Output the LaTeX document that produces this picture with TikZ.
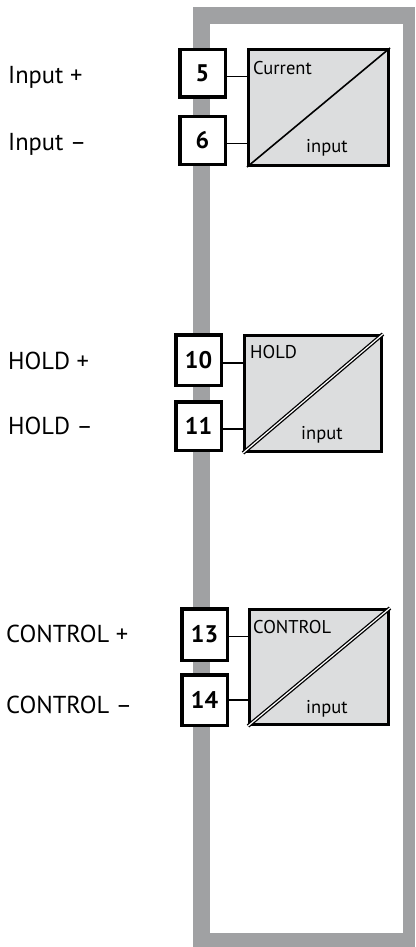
\documentclass[tikz,border=0pt]{standalone}
\usepackage{fontspec}
\setmainfont{PT Sans}
\definecolor{framegray}{HTML}{A0A1A3}
\definecolor{convgray}{HTML}{DCDDDE}
\tikzset{
  term/.style={draw, line width=3.5pt, fill=white, inner sep=0pt,
    font=\fontsize{24}{24}\selectfont\bfseries},
  conv/.style={draw, line width=3pt, fill=convgray, inner sep=0pt},
  wire/.style={line width=1.6pt},
  lbl/.style={anchor=base west, inner sep=0pt, font=\fontsize{24.5}{24.5}\selectfont},
  inlbl/.style={anchor=base west, inner sep=0pt, font=\fontsize{18.5}{18.5}\selectfont},
  diag/.style={line width=1.6pt},
  ddiag/.style={line width=1.3pt, double=white, double distance=1.2pt}
}
\begin{document}
\begin{tikzpicture}[x=1pt,y=-1pt]
\useasboundingbox (0,0) rectangle (415,947);
\fill[framegray] (193,7) rectangle (415,947);
\fill[white] (210,24) rectangle (403,933);

% block 1
\node[conv, minimum width=140pt, minimum height=116pt] (c1) at (318.5,107.5) {};
\node[term, minimum width=45.5pt, minimum height=47.5pt] (t5) at (202.5,73.5) {5};
\node[term, minimum width=45.5pt, minimum height=47.5pt] (t6) at (202.5,140.5) {6};
\draw[diag] (c1.south west) -- (c1.north east);
\draw[wire] ([yshift=-3pt]t5.east) -- ([yshift=-3pt]t5.east -| c1.west);
\draw[wire] ([yshift=-3pt]t6.east) -- ([yshift=-3pt]t6.east -| c1.west);
\node[inlbl] (l1a) at (253,75) {Current};
\node[inlbl] (l1b) at (306,153) {input};
\node[lbl] (n5) at (8,84) {Input +};
\node[lbl] (n6) at (8,150) {Input –};

% block 2
\node[conv, minimum width=137pt, minimum height=116pt] (c2) at (313,393.5) {};
\node[term, minimum width=45.5pt, minimum height=50.5pt] (t10) at (198.5,360) {10};
\node[term, minimum width=45.5pt, minimum height=48.5pt] (t11) at (198.5,426) {11};
\draw[ddiag] (c2.south west) -- (c2.north east);
\draw[wire] ([yshift=-3pt]t10.east) -- ([yshift=-3pt]t10.east -| c2.west);
\draw[wire] ([yshift=-3pt]t11.east) -- ([yshift=-3pt]t11.east -| c2.west);
\node[inlbl] (l2a) at (250,358) {HOLD};
\node[inlbl] (l2b) at (301,439) {input};
\node[lbl] (n10) at (8,369) {HOLD +};
\node[lbl] (n11) at (8,434) {HOLD –};

% block 3
\node[conv, minimum width=139pt, minimum height=115pt] (c3) at (319,667) {};
\node[term, minimum width=45.5pt, minimum height=51.5pt] (t13) at (204.5,634.5) {13};
\node[term, minimum width=45.5pt, minimum height=50.5pt] (t14) at (204.5,700) {14};
\draw[ddiag] (c3.south west) -- (c3.north east);
\draw[wire] ([yshift=-2pt]t13.east) -- ([yshift=-2pt]t13.east -| c3.west);
\draw[wire] (t14.east) -- (t14.east -| c3.west);
\node[inlbl] (l3a) at (253,633) {CONTROL};
\node[inlbl] (l3b) at (306,713) {input};
\node[lbl] (n13) at (6,642) {CONTROL +};
\node[lbl] (n14) at (6,713) {CONTROL –};
\end{tikzpicture}
\end{document}
